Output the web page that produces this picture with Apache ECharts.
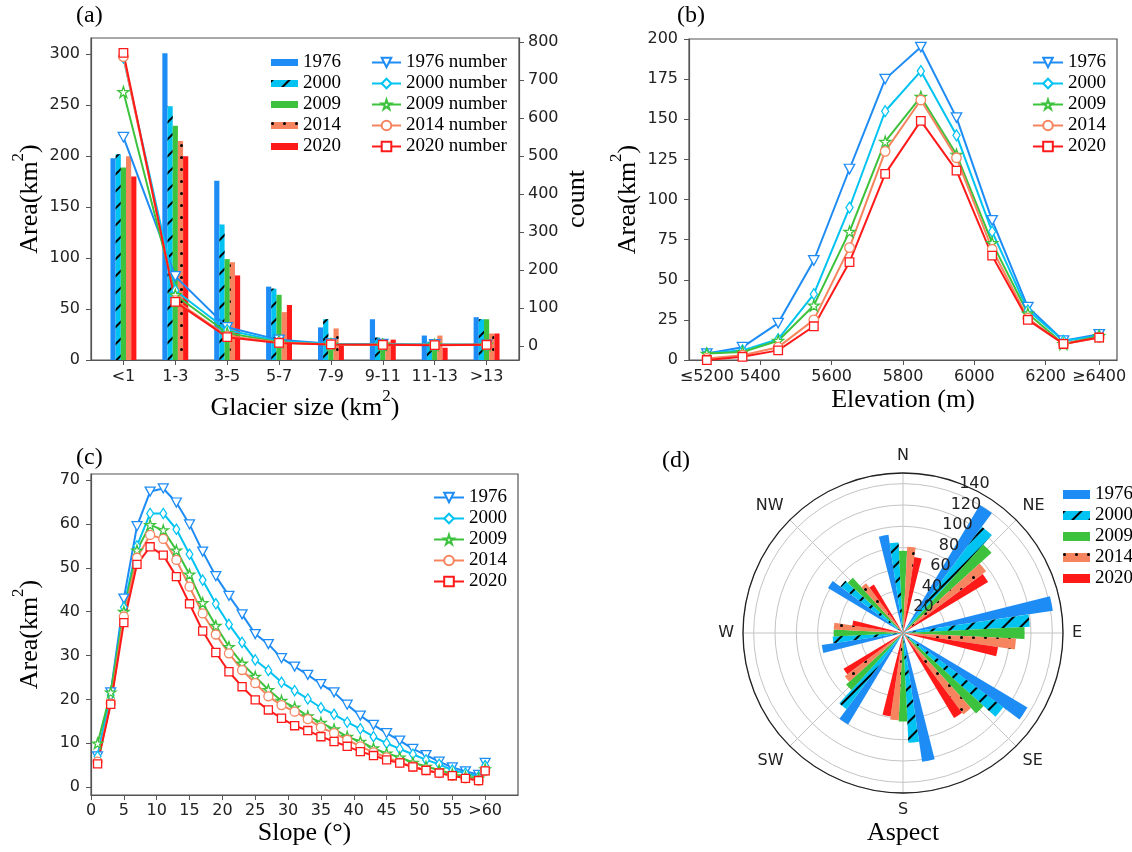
<!DOCTYPE html>
<html><head><meta charset="utf-8">
<script src="https://cdn.jsdelivr.net/npm/echarts@6/dist/echarts.min.js"></script>
<style>html,body{margin:0;padding:0;background:#fff}#c{width:1132px;height:852px}</style>
</head><body><div id="c"></div>
<script>
// ---------- data ----------
const years = ['1976', '2000', '2009', '2014', '2020'];

// (a) glacier size classes
const sizeCats = ['<1', '1-3', '3-5', '5-7', '7-9', '9-11', '11-13', '>13'];
const area1976 = [198, 301, 176, 72, 32, 40, 24, 42];
const area2000 = [202, 249, 133, 70, 40, 22, 18, 40];
const area2009 = [189, 230, 99, 64, 20, 20, 15, 40];
const area2014 = [200, 215, 96, 47, 31, 18, 24, 26];
const area2020 = [180, 200, 83, 54, 15, 20, 12, 26];
const count1976 = [549, 183, 49, 16, 6, 5, 4, 3];
const count2000 = [758, 146, 42, 12, 5, 4, 3, 3];
const count2009 = [668, 134, 34, 10, 4, 3, 3, 3];
const count2014 = [761, 119, 26, 9, 4, 3, 3, 3];
const count2020 = [771, 116, 23, 8, 4, 3, 2, 3];
const areaTicks = [0, 50, 100, 150, 200, 250, 300];
const countTicks = [0, 100, 200, 300, 400, 500, 600, 700, 800];

// (b) elevation
const elevX = [5250, 5350, 5450, 5550, 5650, 5750, 5850, 5950, 6050, 6150, 6250, 6350];
const elevTickValues = [5250, 5400, 5600, 5800, 6000, 6200, 6350];
const elevTickLabels = ['≤5200', '5400', '5600', '5800', '6000', '6200', '≥6400'];
const elev1976 = [4, 8, 23, 62, 119, 175, 195, 151, 87, 33, 12, 16];
const elev2000 = [4, 6, 13, 41, 95, 155, 180, 140, 80, 31, 12, 15];
const elev2009 = [4, 5, 12, 34, 80, 136, 164, 128, 73, 29, 10, 15];
const elev2014 = [1, 3, 8, 25, 70, 130, 162, 126, 69, 26, 10, 14];
const elev2020 = [0, 2, 6, 21, 61, 116, 149, 118, 65, 25, 10, 14];
const elevYTicks = [0, 25, 50, 75, 100, 125, 150, 175, 200];

// (c) slope
const slopeX = [1, 3, 5, 7, 9, 11, 13, 15, 17, 19, 21, 23, 25, 27, 29, 31, 33, 35, 37, 39, 41, 43, 45, 47, 49, 51, 53, 55, 57, 59, 60];
const slopeTickValues = [0, 5, 10, 15, 20, 25, 30, 35, 40, 45, 50, 55, 60];
const slopeTickLabels = ['0', '5', '10', '15', '20', '25', '30', '35', '40', '45', '50', '55', '>60'];
const slope1976 = [7.0, 21.6, 43, 59.5, 67.4, 68.1, 64.9, 59.9, 53.7, 48.1, 43.6, 39.4, 34.9, 32.6, 29.4, 27.5, 25.6, 23.5, 21.6, 18.8, 16.3, 14.2, 12.3, 10.6, 8.7, 7.3, 5.8, 4.5, 3.6, 2.8, 5.5];
const slope2000 = [7, 21, 41, 55, 62.4, 62.4, 58.8, 53.1, 47.2, 41.8, 37.1, 33, 29, 26.6, 23.9, 22, 20.1, 18.1, 16.6, 14.8, 13.3, 11.5, 10, 8.7, 7.5, 6.2, 5.2, 3.9, 3.2, 2.4, 4.9];
const slope2009 = [10, 21.6, 40, 54, 59.8, 58.6, 54, 48.5, 42, 36.8, 32, 28.2, 25.2, 22.2, 19.7, 18.2, 16.2, 14.7, 13.2, 11.5, 10.4, 8.9, 7.7, 6.8, 5.6, 4.7, 3.9, 3, 2.4, 2, 4.1];
const slope2014 = [5.8, 19.1, 38.9, 52.3, 57.5, 56.6, 51.8, 45.7, 39.6, 34.8, 30.5, 26.7, 23.7, 20.7, 18.7, 17.2, 15.5, 13.6, 12.3, 10.8, 9.3, 7.9, 6.8, 5.6, 4.7, 3.9, 3.2, 2.6, 2, 1.5, 3.7];
const slope2020 = [5.3, 18.9, 37.5, 50.8, 54.8, 52.9, 48, 41.8, 35.6, 30.7, 26.3, 22.9, 19.9, 17.6, 15.7, 14, 12.9, 11.5, 10.4, 9.3, 8.1, 7.2, 6.2, 5.5, 4.6, 3.8, 3.2, 2.6, 2, 1.5, 3.7];
const slopeYTicks = [0, 10, 20, 30, 40, 50, 60, 70];

// (d) aspect
const aspectDirs = ['N', 'NE', 'E', 'SE', 'S', 'SW', 'W', 'NW'];
const aspect1976 = [93, 140, 142, 136, 122, 100, 77, 82];
const aspect2000 = [85, 124, 119, 117, 103, 89, 66, 73];
const aspect2009 = [77, 112, 114, 102, 83, 72, 65, 70];
const aspect2014 = [81, 97, 106, 95, 82, 68, 65, 58];
const aspect2020 = [72, 93, 90, 93, 79, 65, 48, 53];
const aspectRadiusLabels = [20, 40, 60, 80, 100, 120, 140];

// ---------- style ----------
const areaSets = [area1976, area2000, area2009, area2014, area2020];
const countSets = [count1976, count2000, count2009, count2014, count2020];
const elevSets = [elev1976, elev2000, elev2009, elev2014, elev2020];
const slopeSets = [slope1976, slope2000, slope2009, slope2014, slope2020];
const aspectSets = [aspect1976, aspect2000, aspect2009, aspect2014, aspect2020];

const colors = ['#1E8CF5', '#00C3F2', '#3CC23C', '#F5845F', '#FF1A1A'];
const SERIF = 'Liberation Serif';
const SANS = 'DejaVu Sans';
const FRAME = '#555';
const STAR = 'path://M50,2 L61.8,38.2 L99,38.2 L68.6,60.3 L80.3,96.5 L50,74.1 L19.7,96.5 L31.4,60.3 L1,38.2 L38.2,38.2 Z';
const TRI_DOWN = 'path://M0,0 L10,0 L5,9 Z';
const symbols = [TRI_DOWN, 'diamond', STAR, 'circle', 'rect'];
function symSize(k, s) {
  return [[s * 1.1, s], [s * 0.75, s * 1.15], s * 1.15, s, s * 0.9][k];
}
const hatch = {symbol: 'rect', symbolSize: 1, color: '#000', dashArrayX: [1, 0], dashArrayY: [1.6, 10], rotation: -Math.PI / 4};
const dots = {symbol: 'circle', symbolSize: 1, color: '#000', dashArrayX: [2.3, 8.5], dashArrayY: [2.3, 8.5]};
const decals = [null, hatch, null, dots, null];

function barItemStyle(k) {
  const s = {color: colors[k]};
  if (decals[k]) s.decal = decals[k];
  return s;
}
function lineSeries(prefix, k, xs, ys, xi, yi, size, z) {
  return {
    type: 'line', name: prefix + years[k] + (prefix === 'a|' ? ' number' : ''),
    xAxisIndex: xi, yAxisIndex: yi,
    data: ys.map((v, i) => [xs[i], v]),
    symbol: symbols[k], symbolSize: symSize(k, size),
    lineStyle: {color: colors[k], width: 2},
    itemStyle: {color: '#fff', borderColor: colors[k], borderWidth: 1.3},
    z: z, animation: false
  };
}
const tickLabel = {fontFamily: SANS, fontSize: 16, color: '#222'};
const nameStyle = {
  fontFamily: SERIF, fontSize: 26, color: '#000',
  rich: {sup: {fontFamily: SERIF, fontSize: 17, color: '#000', padding: [0, 0, 24, 0]}}
};
function axisBase() {
  return {
    axisLine: {show: true, onZero: false, lineStyle: {color: FRAME, width: 1.2}},
    axisTick: {show: true, length: 5, lineStyle: {color: FRAME}},
    splitLine: {show: false}
  };
}
const legendText = {fontFamily: SERIF, fontSize: 19, color: '#000'};
const fmtName = n => n.split('|')[1];

const series = [];
// (a) bars
years.forEach((y, k) => {
  series.push({
    type: 'bar', name: 'a|' + y, xAxisIndex: 0, yAxisIndex: 0,
    data: areaSets[k].map((v, i) => [i, v]),
    barWidth: '10%', barGap: '0%',
    itemStyle: barItemStyle(k), z: 2
  });
});
// (a) lines
years.forEach((y, k) => series.push(lineSeries('a|', k, sizeCats.map((c, i) => i), countSets[k], 0, 1, 9.5, 5)));
// (b)
years.forEach((y, k) => series.push(lineSeries('b|', k, elevX, elevSets[k], 1, 2, 9.5, 3)));
// (c)
years.forEach((y, k) => series.push(lineSeries('c|', k, slopeX, slopeSets[k], 2, 3, 9, 3)));
// (d) polar bars: 64 angular slots, 5 adjacent bars per direction
const NSLOT = 64;
const slotNames = Array.from({length: NSLOT}, (_, i) => 's' + i);
years.forEach((y, k) => {
  const arr = new Array(NSLOT).fill(null);
  aspectSets[k].forEach((v, d) => { arr[((8 * d + k - 2) % NSLOT + NSLOT) % NSLOT] = v; });
  series.push({
    type: 'bar', name: 'd|' + y, coordinateSystem: 'polar', polarIndex: 2,
    data: arr, barGap: '-100%', barCategoryGap: '0%',
    itemStyle: barItemStyle(k), z: 3
  });
});

const titleFont = {fontFamily: SERIF, fontSize: 24, fontWeight: 'normal', color: '#000'};
const option = {
  animation: false,
  backgroundColor: '#fff',
  title: [
    {text: '(a)', left: 76, top: 4, padding: 0, textStyle: titleFont},
    {text: '(b)', left: 677, top: 4, padding: 0, textStyle: titleFont},
    {text: '(c)', left: 76, top: 446, padding: 0, textStyle: titleFont},
    {text: '(d)', left: 662, top: 449, padding: 0, textStyle: titleFont},
    {text: 'Aspect', left: 903, top: 820, textAlign: 'center', padding: 0, textStyle: {fontFamily: SERIF, fontSize: 26, fontWeight: 'normal', color: '#000'}}
  ],
  legend: [
    {orient: 'vertical', left: 271, top: 53, padding: 0, itemGap: 2, itemWidth: 27, itemHeight: 7, icon: 'rect',
     selectedMode: false, textStyle: legendText, formatter: fmtName, data: years.map(y => 'a|' + y)},
    {orient: 'vertical', left: 371, top: 53, padding: 0, itemGap: 2, itemWidth: 29, itemHeight: 12,
     selectedMode: false, textStyle: legendText, formatter: fmtName, data: years.map(y => 'a|' + y + ' number')},
    {orient: 'vertical', left: 1032, top: 53, padding: 0, itemGap: 2, itemWidth: 30, itemHeight: 12,
     selectedMode: false, textStyle: legendText, formatter: fmtName, data: years.map(y => 'b|' + y)},
    {orient: 'vertical', left: 433, top: 488, padding: 0, itemGap: 2, itemWidth: 30, itemHeight: 12,
     selectedMode: false, textStyle: legendText, formatter: fmtName, data: years.map(y => 'c|' + y)},
    {orient: 'vertical', left: 1063, top: 485, padding: 0, itemGap: 2, itemWidth: 27, itemHeight: 9, icon: 'rect',
     selectedMode: false, textStyle: legendText, formatter: fmtName, data: years.map(y => 'd|' + y)}
  ],
  grid: [
    {left: 91, top: 38, width: 428, height: 322, show: true, borderColor: FRAME, borderWidth: 1.2},
    {left: 689, top: 39, width: 428, height: 321, show: true, borderColor: FRAME, borderWidth: 1.2},
    {left: 91, top: 474, width: 427, height: 321, show: true, borderColor: FRAME, borderWidth: 1.2}
  ],
  xAxis: [
    Object.assign(axisBase(), {
      gridIndex: 0, type: 'value', min: -0.625, max: 7.625,
      axisTick: {show: true, length: 5, lineStyle: {color: FRAME}, customValues: sizeCats.map((c, i) => i)},
      axisLabel: Object.assign({customValues: sizeCats.map((c, i) => i), formatter: v => sizeCats[Math.round(v)], margin: 9}, tickLabel),
      name: 'Glacier size (km{sup|2})', nameLocation: 'middle', nameGap: 28, nameTextStyle: nameStyle
    }),
    Object.assign(axisBase(), {
      gridIndex: 1, type: 'value', min: 5200, max: 6400,
      axisTick: {show: true, length: 5, lineStyle: {color: FRAME}, customValues: elevTickValues},
      axisLabel: Object.assign({customValues: elevTickValues, formatter: v => elevTickLabels[elevTickValues.indexOf(v)], margin: 9}, tickLabel),
      name: 'Elevation (m)', nameLocation: 'middle', nameGap: 27, nameTextStyle: nameStyle
    }),
    Object.assign(axisBase(), {
      gridIndex: 2, type: 'value', min: 0, max: 65,
      axisTick: {show: true, length: 5, lineStyle: {color: FRAME}, customValues: slopeTickValues},
      axisLabel: Object.assign({customValues: slopeTickValues, formatter: v => slopeTickLabels[slopeTickValues.indexOf(v)], margin: 8}, tickLabel),
      name: 'Slope (°)', nameLocation: 'middle', nameGap: 25, nameTextStyle: nameStyle
    })
  ],
  yAxis: [
    Object.assign(axisBase(), {
      gridIndex: 0, type: 'value', min: 0, max: 316, position: 'left',
      axisTick: {show: true, length: 5, lineStyle: {color: FRAME}, customValues: areaTicks},
      axisLabel: Object.assign({customValues: areaTicks, margin: 11}, tickLabel),
      name: 'Area(km{sup|2})', nameLocation: 'middle', nameRotate: 90, nameGap: 40, nameTextStyle: nameStyle
    }),
    Object.assign(axisBase(), {
      gridIndex: 0, type: 'value', min: -37, max: 810, position: 'right',
      axisTick: {show: true, length: 5, lineStyle: {color: FRAME}, customValues: countTicks},
      axisLabel: Object.assign({customValues: countTicks, margin: 9}, tickLabel),
      name: 'count', nameLocation: 'middle', nameRotate: 90, nameGap: 45, nameTextStyle: nameStyle
    }),
    Object.assign(axisBase(), {
      gridIndex: 1, type: 'value', min: 0, max: 200,
      axisTick: {show: true, length: 5, lineStyle: {color: FRAME}, customValues: elevYTicks},
      axisLabel: Object.assign({customValues: elevYTicks, margin: 11}, tickLabel),
      name: 'Area(km{sup|2})', nameLocation: 'middle', nameRotate: 90, nameGap: 40, nameTextStyle: nameStyle
    }),
    Object.assign(axisBase(), {
      gridIndex: 2, type: 'value', min: -1.8, max: 71.4,
      axisTick: {show: true, length: 5, lineStyle: {color: FRAME}, customValues: slopeYTicks},
      axisLabel: Object.assign({customValues: slopeYTicks, margin: 11}, tickLabel),
      name: 'Area(km{sup|2})', nameLocation: 'middle', nameRotate: 90, nameGap: 40, nameTextStyle: nameStyle
    })
  ],
  polar: [
    {center: [903, 633], radius: 160},
    {center: [903, 633], radius: 180},
    {center: [903, 633], radius: 160}
  ],
  angleAxis: [
    {polarIndex: 0, type: 'value', min: 0, max: 360, interval: 45, startAngle: 90, clockwise: true,
     axisLine: {show: true, lineStyle: {color: '#222', width: 1.3}},
     axisTick: {show: false},
     axisLabel: Object.assign({customValues: [0, 45, 90, 135, 180, 225, 270, 315], formatter: v => aspectDirs[Math.round(v / 45) % 8], margin: 9}, tickLabel),
     splitLine: {show: true, lineStyle: {color: '#c4c4c4', width: 1}}, z: 0},
    {polarIndex: 1, type: 'value', min: 0, max: 360, startAngle: 67.5, show: false},
    {polarIndex: 2, type: 'category', data: slotNames, startAngle: 90 + 360 / NSLOT / 2, clockwise: true, show: false}
  ],
  radiusAxis: [
    {polarIndex: 0, type: 'value', min: 0, max: 150, interval: 20,
     axisLine: {show: false}, axisTick: {show: false}, axisLabel: {show: false},
     splitLine: {show: true, lineStyle: {color: '#c4c4c4', width: 1}}, z: 0},
    {polarIndex: 1, type: 'value', min: -8.56, max: 153.6,
     axisLine: {show: false}, axisTick: {show: false}, splitLine: {show: false},
     axisLabel: Object.assign({customValues: aspectRadiusLabels, margin: -9, align: 'center', verticalAlign: 'middle'}, tickLabel), z: 10},
    {polarIndex: 2, type: 'value', min: 0, max: 150, show: false}
  ],
  series: series
};
const chart = echarts.init(document.getElementById('c'), null, {renderer: 'canvas'});
chart.setOption(option);
</script>
</body></html>
